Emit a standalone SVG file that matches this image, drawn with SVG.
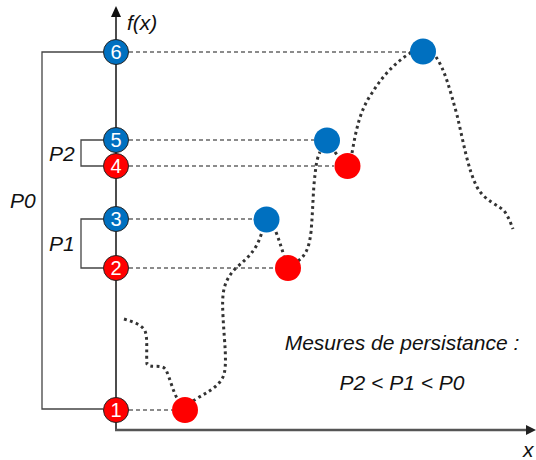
<svg xmlns="http://www.w3.org/2000/svg" width="536" height="460" viewBox="0 0 536 460">
<style>
.lbl{font-family:"Liberation Sans",Arial,sans-serif;font-style:italic;font-size:21px;fill:#111}
.num{font-family:"Liberation Sans",Arial,sans-serif;font-size:20px;fill:#fff;text-anchor:middle}
.blue{fill:#0070C0}
.red{fill:#FF0000}
.node{stroke:#222;stroke-width:1}
.dash{stroke:#666;stroke-width:1.4;stroke-dasharray:4 3;fill:none}
.dot{stroke:#333;stroke-width:3;stroke-dasharray:2.8 3.4;fill:none}
.br{stroke:#444;stroke-width:1.3;fill:none}
</style>
<rect width="536" height="460" fill="#fff"/>
<g id="connectors">
<polyline class="br" points="103,52 42,52 42,409 103,409"/>
<polyline class="br" points="103,140 81,140 81,166 103,166"/>
<polyline class="br" points="103,219 81,219 81,268 103,268"/>
<line class="dash" x1="129" y1="52" x2="410" y2="52"/>
<line class="dash" x1="129" y1="140" x2="314" y2="140" stroke="#333"/>
<line class="dash" x1="129" y1="166" x2="334" y2="166"/>
<line class="dash" x1="129" y1="219" x2="253" y2="219"/>
<line class="dash" x1="129" y1="268" x2="275" y2="268"/>
<line class="dash" x1="129" y1="410" x2="172" y2="410"/>
<path class="dot" d="M124,319 C134,322 142,325 145,331 C148,338 146,355 147,364 C150,369 162,363 166,370 C170,378 173,392 178,400"/>
<path class="dot" d="M193,401 C205,393 218,388 223,377 C228,366 224,340 223,316 C222,296 222,282 236,268 C247,258 256,252 262,232"/>
<path class="dot" d="M276,232 C279,240 281,246 284,256"/>
<path class="dot" d="M298,261 C306,255 309,248 311,232 C313,210 313,190 315,175 C316,165 317,158 320,152"/>
<path class="dot" d="M335,152 C337,155 339,157 341,160"/>
<path class="dot" d="M352,153 C356,130 360,110 372,93 C382,77 395,62 412,52"/>
<path class="dot" d="M436,57 C445,70 450,90 457,115 C463,140 468,170 477,187 C485,202 500,205 505,212 C509,218 511,224 513,229"/>
<line x1="116" y1="430" x2="116" y2="15" stroke="#111" stroke-width="1.5"/>
<polygon points="116,6 111,17 121,17" fill="#111"/>
<line x1="115" y1="430" x2="527" y2="430" stroke="#555" stroke-width="2.5"/>
<polygon points="536,430 526,425 526,435" fill="#222"/>
</g>
<g id="curve-points">
<circle class="red" cx="185" cy="410" r="13"/>
<circle class="red" cx="288" cy="268" r="13"/>
<circle class="blue" cx="266.5" cy="219.5" r="13"/>
<circle class="blue" cx="327" cy="140.5" r="13"/>
<circle class="red" cx="347.5" cy="166" r="13"/>
<circle class="blue" cx="423" cy="51.5" r="13"/>
</g>
<g id="n6"><circle class="blue node" cx="116" cy="52" r="12.5"/><text class="num" x="116" y="59">6</text></g>
<g id="n5"><circle class="blue node" cx="116" cy="140" r="12.5"/><text class="num" x="116" y="147">5</text></g>
<g id="n4"><circle class="red node" cx="116" cy="166" r="12.5"/><text class="num" x="116" y="173">4</text></g>
<g id="n3"><circle class="blue node" cx="116" cy="219" r="12.5"/><text class="num" x="116" y="226">3</text></g>
<g id="n2"><circle class="red node" cx="116" cy="268" r="12.5"/><text class="num" x="116" y="275">2</text></g>
<g id="n1"><circle class="red node" cx="116" cy="410" r="12.5"/><text class="num" x="116" y="417">1</text></g>
<g id="labels">
<text class="lbl" x="127" y="30">f(x)</text>
<text class="lbl" x="523" y="457">x</text>
<text class="lbl" x="10" y="208">P0</text>
<text class="lbl" x="49" y="161">P2</text>
<text class="lbl" x="49" y="251">P1</text>
<text class="lbl" x="402" y="350" text-anchor="middle">Mesures de persistance :</text>
<text class="lbl" x="402" y="390" text-anchor="middle">P2 &lt; P1 &lt; P0</text>
</g>
</svg>
